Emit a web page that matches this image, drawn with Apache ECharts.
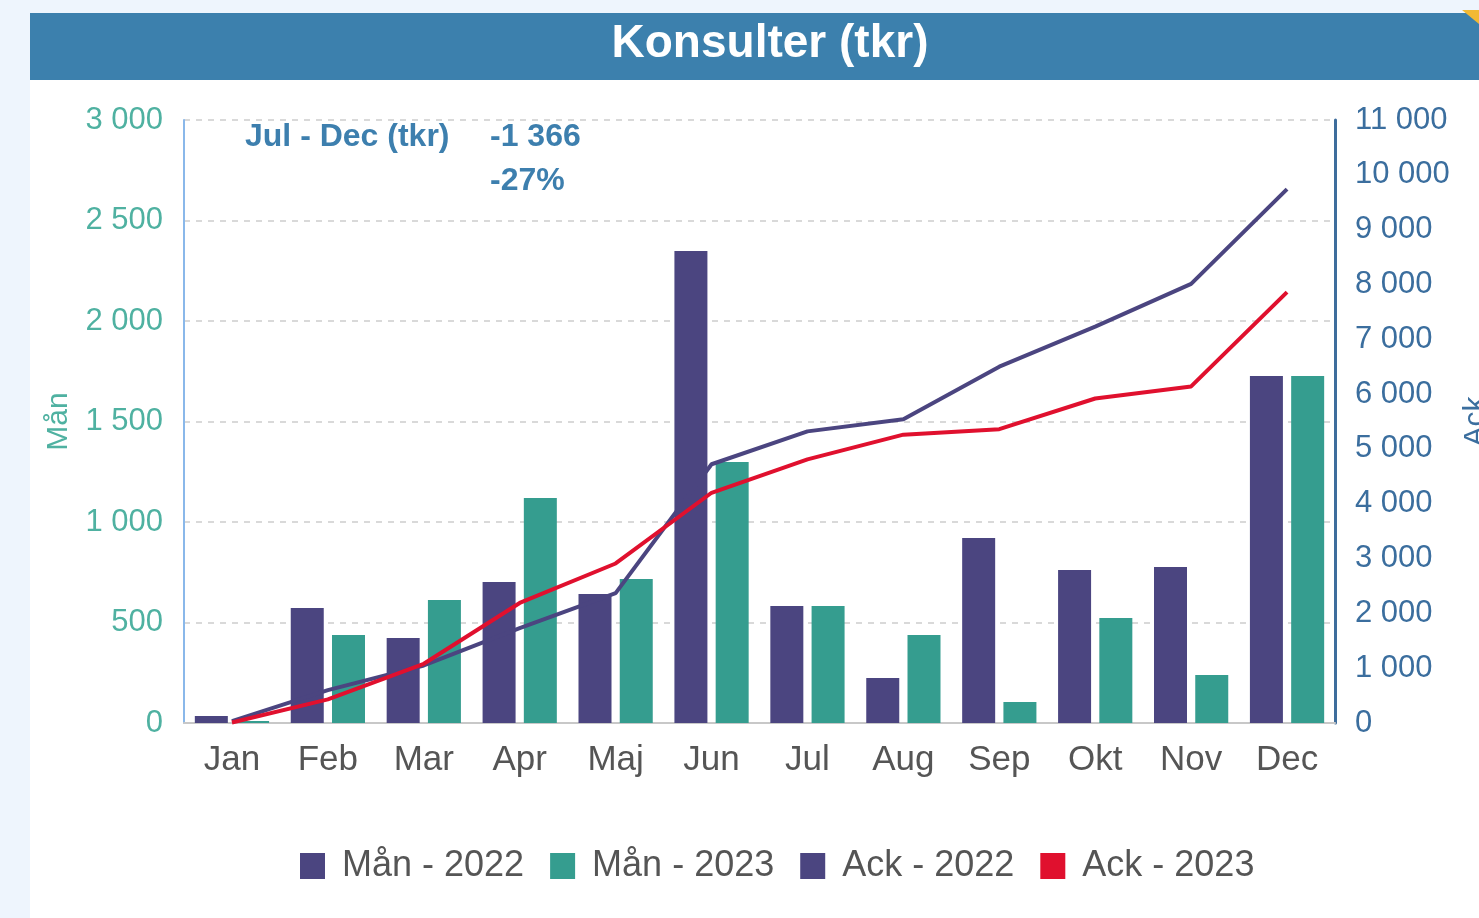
<!DOCTYPE html>
<html>
<head>
<meta charset="utf-8">
<script src="https://cdn.jsdelivr.net/npm/echarts@6/dist/echarts.min.js"></script>
<style>
  html, body { margin: 0; padding: 0; background: #eef5fd; overflow: hidden; }
  #chart { width: 1479px; height: 918px; }
</style>
</head>
<body>
<div id="chart"></div>
<script>
  // Konsulter (tkr) - månad + ackumulerat
  const MONTHS = ['Jan', 'Feb', 'Mar', 'Apr', 'Maj', 'Jun', 'Jul', 'Aug', 'Sep', 'Okt', 'Nov', 'Dec'];
  const MAN_2022 = [35, 572, 423, 701, 642, 2348, 582, 224, 920, 761, 776, 1726];
  const MAN_2023 = [10, 438, 612, 1119, 716, 1298, 582, 438, 104, 522, 239, 1726];
  const ACK_2022 = [35, 600, 1050, 1730, 2370, 4720, 5320, 5540, 6500, 7230, 8010, 9740];
  const ACK_2023 = [10, 430, 1080, 2190, 2910, 4200, 4810, 5260, 5360, 5920, 6140, 7860];
  const NOTE_LABEL = 'Jul - Dec (tkr)';
  const NOTE_DIFF = '-1 366';
  const NOTE_PCT = '-27%';

  const C_PURPLE = '#4b4580';
  const C_TEAL = '#359d8f';
  const C_RED = '#e0102e';
  const C_BLUE = '#3d7fae';
  const FONT = 'Liberation Sans, Arial, sans-serif';

  const fmt = v => String(v).replace(/\B(?=(\d{3})+(?!\d))/g, ' ');

  const chart = echarts.init(document.getElementById('chart'));
  chart.setOption({
    backgroundColor: '#eef5fd',
    animation: false,
    textStyle: { fontFamily: FONT },
    graphic: [
      { type: 'rect', z: -10, shape: { x: 30, y: 80, width: 1449, height: 838 }, style: { fill: '#ffffff' } },
      { type: 'rect', z: -9, shape: { x: 30, y: 13, width: 1449, height: 67 }, style: { fill: '#3c80ad' } },
      { type: 'polygon', z: -8, shape: { points: [[1462, 10], [1479, 10], [1479, 24]] }, style: { fill: '#f2b934' } },
      { type: 'text', x: 770, y: 44, z: 10,
        style: { text: 'Konsulter (tkr)', fill: '#ffffff', font: 'bold 46px ' + FONT,
                 textAlign: 'center', textVerticalAlign: 'middle' } },
      { type: 'text', x: 245, y: 137, z: 10,
        style: { text: NOTE_LABEL, fill: C_BLUE, font: 'bold 32px ' + FONT, textVerticalAlign: 'middle' } },
      { type: 'text', x: 490, y: 137, z: 10,
        style: { text: NOTE_DIFF, fill: C_BLUE, font: 'bold 32px ' + FONT, textVerticalAlign: 'middle' } },
      { type: 'text', x: 490, y: 181, z: 10,
        style: { text: NOTE_PCT, fill: C_BLUE, font: 'bold 32px ' + FONT, textVerticalAlign: 'middle' } }
    ],
    legend: {
      left: 295,
      top: 843,
      itemWidth: 25,
      itemHeight: 26,
      itemGap: 26,
      icon: 'rect',
      textStyle: { color: '#555', fontSize: 36, padding: [0, 0, 0, 12] },
      data: ['Mån - 2022', 'Mån - 2023', 'Ack - 2022', 'Ack - 2023']
    },
    grid: { left: 184, right: 144, top: 120, bottom: 195, outerBoundsMode: 'none', containLabel: false },
    xAxis: {
      type: 'category',
      data: MONTHS,
      axisLine: { lineStyle: { color: '#c8c8c8', width: 2 } },
      axisTick: { lineStyle: { color: '#c8c8c8', width: 2 }, length: 9 },
      axisLabel: { color: '#555', fontSize: 35, margin: 20 }
    },
    yAxis: [
      {
        type: 'value', min: 0, max: 3000, interval: 500,
        name: 'Mån', nameLocation: 'middle', nameGap: 110,
        nameTextStyle: { color: '#4fb1a1', fontSize: 30 },
        axisLine: { show: true, lineStyle: { color: '#8ab8ea', width: 2 } },
        axisLabel: { color: '#4fb1a1', fontSize: 31, margin: 21, formatter: fmt },
        splitLine: { lineStyle: { color: '#d9d9d9', type: [6, 6], width: 2 } }
      },
      {
        type: 'value', min: 0, max: 11000, interval: 1000,
        name: 'Ack', nameLocation: 'middle', nameGap: 112,
        nameTextStyle: { color: '#3b6e9e', fontSize: 30 },
        axisLine: { show: true, lineStyle: { color: '#3e6d9c', width: 3 } },
        axisLabel: { color: '#3b6e9e', fontSize: 31, margin: 20, formatter: fmt },
        splitLine: { show: false }
      }
    ],
    series: [
      { name: 'Mån - 2022', type: 'bar', data: MAN_2022, barWidth: 33, barGap: '25%',
        itemStyle: { color: C_PURPLE } },
      { name: 'Mån - 2023', type: 'bar', data: MAN_2023, barWidth: 33,
        itemStyle: { color: C_TEAL } },
      { name: 'Ack - 2022', type: 'line', yAxisIndex: 1, data: ACK_2022, symbol: 'none',
        lineStyle: { color: C_PURPLE, width: 4 }, itemStyle: { color: C_PURPLE } },
      { name: 'Ack - 2023', type: 'line', yAxisIndex: 1, data: ACK_2023, symbol: 'none',
        lineStyle: { color: C_RED, width: 4 }, itemStyle: { color: C_RED } }
    ]
  });
</script>
</body>
</html>
